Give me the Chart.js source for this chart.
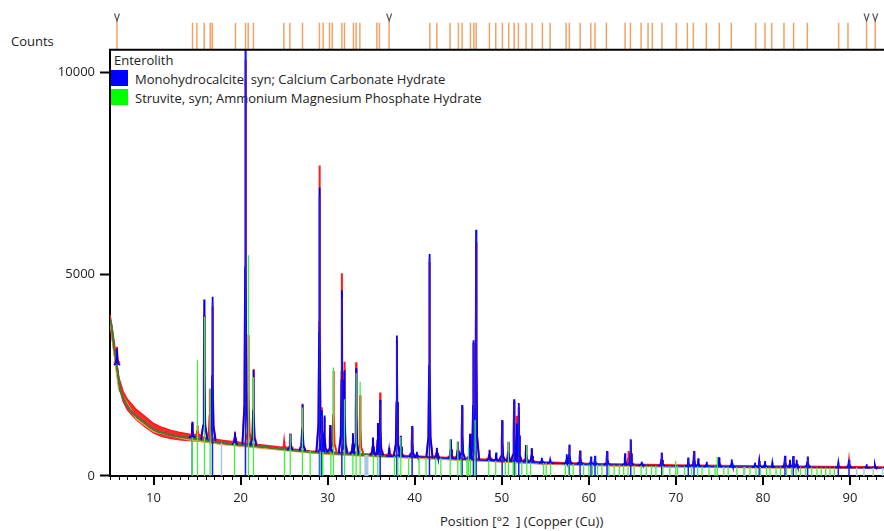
<!DOCTYPE html>
<html>
<head>
<meta charset="utf-8">
<script src="https://cdn.jsdelivr.net/npm/chart.js@4.4.0/dist/chart.umd.min.js"></script>
<style>
  html, body { margin: 0; padding: 0; background: #fff; }
  #wrap { position: relative; width: 884px; height: 531px; font-family: "Open Sans", sans-serif; font-size: 13px; color: #222; }
  .lbl { position: absolute; white-space: nowrap; line-height: 16px; }
  .sw { position: absolute; width: 17px; height: 16px; }
  canvas { position: absolute; left: 0; top: 0; }
</style>
</head>
<body>
<div id="wrap">
  <div class="lbl" style="left:11px;top:33px">Counts</div>
  <div class="lbl" style="left:114px;top:52px">Enterolith</div>
  <div class="sw" style="left:111px;top:70px;background:#0000ff"></div>
  <div class="lbl" style="left:135px;top:71px">Monohydrocalcite, syn; Calcium Carbonate Hydrate</div>
  <div class="sw" style="left:111px;top:89px;background:#00ff00"></div>
  <div class="lbl" style="left:135px;top:90px">Struvite, syn; Ammonium Magnesium Phosphate Hydrate</div>
  <div class="lbl" style="left:440px;top:513px">Position [°2&nbsp;&nbsp;] (Copper (Cu))</div>
  <canvas id="xrd" width="884" height="531"></canvas>
</div>
<script>
// axis labels
const xTickLabels = [10, 20, 30, 40, 50, 60, 70, 80, 90];
const yTickLabels = [0, 5000, 10000];

// background of the calculated pattern [2theta, counts]
const bgCalc = [[5.0,3900],[5.2,3700],[5.5,3150],[5.8,2700],[6.2,2100],[6.8,1800],[7.3,1630],[8.0,1480],[8.85,1345],[9.6,1210],[10.4,1110],[11.9,1015],[13.45,960],[14.6,940],[16,880],[17.8,815],[19.5,780],[22.8,720],[25.5,650],[28.6,590],[31,560],[34.4,520],[37,490],[40.9,470],[45,420],[48,390],[52.1,350],[55,320],[60,285],[65,265],[70,245],[76.8,222],[85,215],[93.9,200]];
const bgOrange = [[5,3850],[6,2150],[8,1420],[10,1100],[14,900],[18,780],[22,700],[26,610],[30,540],[35,480],[40,440],[50,350],[60,262],[70,225],[80,205],[93.9,190]];

// observed scan: noisy band (upper / lower edge) and its peaks [pos, top, base]
const obsUpper = [[5,4000],[5.5,3300],[6,2450],[6.5,2100],[7,1900],[7.5,1780],[8,1650],[9,1480],[10,1300],[11,1200],[12,1130],[13,1080],[14,1040],[15,1000],[16,950],[18,880],[20,830],[22,780],[24,730],[26,670],[28,620],[30,600],[33,560],[36,530],[40,495],[45,445],[50,395],[55,345],[60,310],[70,270],[80,245],[93.9,225]];
const obsLower = [[5,3800],[5.5,3000],[6,2250],[6.5,1850],[7,1640],[7.5,1520],[8,1400],[9,1220],[10,1070],[11,980],[12,930],[13,900],[14,880],[15,870],[16,840],[18,790],[20,750],[22,715],[24,680],[26,630],[28,580],[30,555],[33,520],[36,490],[40,455],[45,405],[50,355],[55,300],[60,270],[70,232],[80,212],[93.9,192]];
const obsPeaks = [[5.8,3200,2800],[14.45,1300,1000],[15.05,1250,1000],[15.82,3980,950],[16.47,2150,930],[16.77,4200,920],[19.35,1100,840],[20.56,10300,820],[20.9,3500,820],[21.48,2650,800],[25.0,850,700],[25.7,1050,690],[27.1,1790,650],[29.06,7690,620],[29.33,1700,620],[29.63,1450,615],[30.29,1250,610],[30.67,2600,600],[31.63,5020,590],[31.93,2830,585],[32.9,1050,575],[33.27,2820,570],[33.73,2000,565],[35.2,960,545],[35.77,1300,540],[36.03,2070,540],[37.06,700,520],[37.95,3350,515],[38.4,1000,510],[39.7,1200,500],[41.69,5300,490],[42.54,700,480],[44.15,900,460],[44.95,850,455],[45.44,1700,450],[46.36,1050,440],[46.74,3300,440],[47.05,5800,435],[48.58,650,420],[50.04,1350,400],[50.76,830,395],[51.41,1850,390],[51.72,1490,385],[51.95,1700,385],[52.79,760,375],[53.44,680,360],[57.76,760,310],[58.99,620,305],[62.09,600,290],[64.54,620,280],[64.81,880,280],[68.37,560,265],[72.08,600,255],[74.95,450,250],[79.57,360,240],[82.53,480,235],[83.48,480,235],[85.13,460,230],[89.88,380,225]];

// calculated Monohydrocalcite profile peaks [pos, top, base]
const calcPeaks = [[5.8,3150,2750],[14.45,1345,950],[15.82,4370,900],[16.77,4440,870],[19.35,1070,790],[20.56,10560,770],[21.48,2620,750],[25.7,1040,650],[27.1,1770,620],[29.06,7150,590],[29.33,1630,590],[29.63,1500,590],[30.29,1260,580],[31.63,4600,560],[31.93,2620,560],[32.9,1060,550],[33.27,2670,540],[35.2,940,520],[35.77,1310,515],[36.03,1880,510],[37.06,640,490],[37.95,3480,485],[38.4,990,480],[39.7,1240,470],[40.24,600,465],[41.69,5500,460],[42.54,690,450],[44.15,910,430],[44.95,850,425],[45.44,1760,420],[46.36,1040,410],[46.74,3360,405],[47.05,6100,400],[48.58,640,390],[49.35,580,380],[50.04,1390,370],[50.76,850,365],[51.41,1900,360],[51.72,1300,355],[51.95,1810,355],[52.79,770,345],[53.44,690,335],[54.6,450,320],[55.55,400,315],[57.46,540,300],[57.76,780,300],[58.99,630,295],[60.25,480,285],[60.71,500,285],[62.09,620,280],[64.16,560,268],[64.81,910,265],[66.07,355,260],[68.37,580,250],[71.42,455,240],[72.08,620,240],[72.57,440,240],[73.53,355,235],[74.95,460,230],[76.41,410,225],[79.08,330,220],[79.57,370,220],[80.23,370,220],[81.07,330,218],[82.53,500,217],[83.1,400,216],[83.48,495,216],[83.87,400,216],[85.13,480,215],[88.65,330,210],[89.88,400,210],[91.9,290,205],[92.86,270,205]];

// reference sticks [pos, top]
const struviteSticks = [[14.45,950],[15.05,2870],[15.85,3950],[16.5,2180],[19.3,815],[20.9,5470],[21.48,2450],[25.04,660],[25.7,1035],[27.1,1700],[27.99,620],[29.14,600],[29.45,600],[30.37,590],[30.67,2690],[31.93,1900],[32.9,560],[33.27,2550],[33.73,2335],[35.26,520],[35.76,520],[37.67,490],[38.06,490],[38.4,970],[39.3,470],[40.5,465],[41.3,460],[42.4,450],[43.0,445],[44.07,910],[44.95,850],[45.3,430],[46.0,420],[46.17,700],[46.4,420],[46.93,1390],[48.5,390],[49.3,380],[50.4,370],[50.76,850],[51.3,360],[51.6,360],[52.3,350],[52.87,770],[53.3,340],[54.8,320],[55.1,318],[55.6,315],[57.3,300],[57.7,300],[58.2,298],[59.4,292],[60.0,285],[60.4,285],[61.0,283],[61.5,282],[62.3,280],[62.9,275],[63.5,272],[64.0,268],[64.5,266],[65.2,264],[66.0,260],[66.6,256],[67.2,254],[67.7,252],[68.5,250],[69.3,248],[69.98,370],[70.2,246],[71.0,244],[71.8,242],[72.5,240],[73.0,238],[73.8,236],[74.5,234],[74.75,470],[75.5,230],[76.0,228],[77.0,226],[77.8,224],[78.5,222],[79.2,220],[79.7,220],[80.4,220],[80.8,218],[81.5,218],[82.0,218],[82.7,216],[83.3,216],[83.8,216],[84.3,215],[84.9,215],[85.6,214],[86.2,214],[86.7,213],[87.2,212],[87.7,212],[88.2,211]];
const monoSticks = [[14.45,950],[16.77,4300],[20.56,10560],[29.06,6900],[29.33,1500],[31.63,4400],[36.03,1800],[37.95,3300],[39.7,1200],[41.69,5400],[45.44,1700],[46.74,3300],[47.05,6000],[50.04,1350],[51.41,1850],[51.95,1750],[57.76,700],[58.99,600],[60.25,450],[60.71,480],[62.09,600],[64.81,880],[68.37,560],[71.42,440],[72.08,600],[79.57,350],[82.53,480],[83.48,480],[85.13,460],[88.65,320],[89.88,390]];
const paleSticks = [[17.8,815],[34.3,520],[34.45,520],[34.6,520],[77.9,224],[90.76,210],[91.6,205],[92.66,205],[93.74,200]];

// peak positions in the top strip, and the ones flagged with a V
const topTicks = [5.8,14.48,14.98,15.82,16.51,16.74,19.41,20.56,20.87,21.48,24.97,25.66,27.11,29.06,29.48,30.21,30.52,31.63,31.93,32.96,33.27,33.7,35.65,35.95,37.06,41.73,42.54,44.06,45.02,45.44,46.4,46.79,47.05,48.58,49.31,50.07,50.8,51.41,51.91,52.79,53.48,54.66,55.55,57.38,57.76,59.0,60.22,60.71,62.01,64.16,64.77,66.0,66.8,67.29,68.4,70.05,71.31,72.0,73.49,74.98,76.36,79.16,80.23,81.0,82.41,83.52,85.09,88.69,89.76,91.9,92.89];
const vMarks = [5.8, 37.06, 91.9, 92.89];

const SHAPE = [[-0.35,0],[-0.12,0.1],[-0.04,0.45],[0,1],[0.04,0.45],[0.12,0.1],[0.35,0]];

function pts(list) {
  return list.map(([x, y]) => ({x, y}));
}

function peakLines(peaks) {
  const out = [];
  peaks.forEach(([pos, top, base]) => {
    SHAPE.forEach(([dx, f]) => out.push({x: pos + dx, y: base + f * (top - base)}));
    out.push({x: pos + 0.35, y: null});
  });
  return out;
}

function stickLines(list) {
  const out = [];
  list.forEach(([pos, top]) => {
    out.push({x: pos, y: 0}, {x: pos, y: top}, {x: pos, y: null});
  });
  return out;
}

function line(data, color, width, order, extra) {
  return Object.assign({
    data: data, borderColor: color, borderWidth: width, order: order,
    pointRadius: 0, tension: 0, spanGaps: false, fill: false, yAxisID: 'y'
  }, extra || {});
}

const frame = {
  id: 'frame',
  afterDraw(chart) {
    const {ctx} = chart;
    const {x, y, yTop} = chart.scales;
    ctx.save();
    ctx.strokeStyle = '#000';
    x.ticks.forEach(t => {
      const major = t.value % 10 === 0;
      const px = Math.round(x.getPixelForValue(t.value)) + (major ? 0 : 0.5);
      ctx.lineWidth = major ? 2 : 1;
      ctx.beginPath();
      ctx.moveTo(px, y.bottom);
      ctx.lineTo(px, y.bottom + (major ? 9 : 4));
      ctx.stroke();
    });
    ctx.lineWidth = 2;
    ctx.beginPath();
    ctx.moveTo(x.left - 1, y.top);
    ctx.lineTo(x.right, y.top);
    ctx.stroke();
    ctx.strokeStyle = '#555';
    ctx.lineWidth = 1.2;
    vMarks.forEach(p => {
      const px = x.getPixelForValue(p);
      const t = yTop.getPixelForValue(0.98), b = yTop.getPixelForValue(0.78);
      ctx.beginPath();
      ctx.moveTo(px - 2.5, t);
      ctx.lineTo(px, b);
      ctx.lineTo(px + 2.5, t);
      ctx.stroke();
    });
    ctx.restore();
  }
};

new Chart(document.getElementById('xrd'), {
  type: 'line',
  data: {
    datasets: [
      line(stickLines(topTicks.map(p => [p, vMarks.includes(p) ? 0.78 : 0.73])), '#f3a264', 1.5, 0, {yAxisID: 'yTop'}),
      line(stickLines(struviteSticks), '#3def3d', 1.3, 1),
      line(stickLines(monoSticks), '#1a1aff', 1.5, 2),
      line(stickLines(paleSticks), '#a9c6e6', 1.5, 3),
      line(peakLines(calcPeaks), '#0000ee', 1.8, 4),
      line(pts(bgCalc.filter(p => p[0] <= 38)), '#4c7a2c', 2, 5),
      line(pts(bgCalc), '#1a1ae0', 1.5, 6),
      line(pts(bgOrange), '#e9a040', 1.5, 7),
      line(peakLines(obsPeaks), '#ff1a1a', 2, 8),
      line(pts(obsUpper), '#ff1a1a', 1.5, 9, {fill: '+1', backgroundColor: '#ff2a2a'}),
      line(pts(obsLower), '#ff1a1a', 1.5, 10)
    ]
  },
  options: {
    responsive: false,
    animation: false,
    layout: {padding: {top: 12, left: 0, right: 0, bottom: 0}},
    plugins: {legend: {display: false}, tooltip: {enabled: false}},
    scales: {
      x: {
        type: 'linear', min: 5, max: 93.9,
        afterBuildTicks: s => {
          const t = [];
          for (let v = 5; v <= 93; v++) t.push({value: v});
          s.ticks = t;
        },
        afterFit: s => { s.height = 55; s.paddingLeft = 0; s.paddingRight = 0; },
        grid: {display: false, drawTicks: false},
        border: {display: true, color: '#000', width: 2},
        ticks: {
          autoSkip: false, maxRotation: 0, padding: 14, color: '#222',
          font: {family: 'Open Sans', size: 13},
          callback: v => xTickLabels.includes(v) ? String(v) : ''
        }
      },
      y: {
        type: 'linear', position: 'left', stack: 'frame', stackWeight: 427,
        min: 0, max: 10560,
        afterBuildTicks: s => { s.ticks = yTickLabels.map(v => ({value: v})); },
        afterFit: s => { s.width = 110; },
        grid: {drawOnChartArea: false, drawTicks: true, tickLength: 10, tickColor: '#000', tickWidth: 2},
        border: {display: true, color: '#000', width: 2},
        ticks: {padding: 5, color: '#222', font: {family: 'Open Sans', size: 13}, callback: v => String(v)}
      },
      yTop: {
        type: 'linear', position: 'left', stack: 'frame', stackWeight: 37,
        min: 0, max: 1,
        grid: {display: false},
        border: {display: false},
        ticks: {display: false}
      }
    }
  },
  plugins: [frame]
});
</script>
</body>
</html>
